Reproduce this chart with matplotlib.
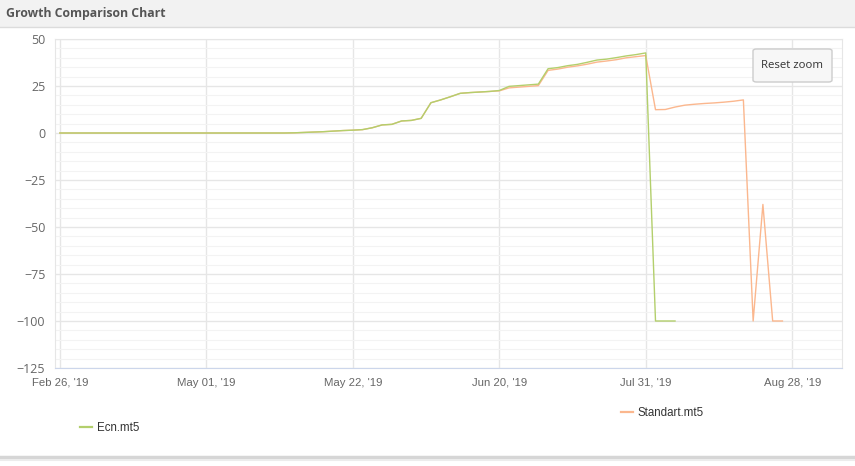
import numpy as np
import matplotlib.pyplot as plt
from matplotlib.patches import Rectangle, FancyBboxPatch
from matplotlib.lines import Line2D

# ordinal axis: one step per data point
tick_pos = [0, 15, 30, 45, 60, 75]
tick_labels = ["Feb 26, '19", "May 01, '19", "May 22, '19",
               "Jun 20, '19", "Jul 31, '19", "Aug 28, '19"]

ecn = [0]*24 + [0.1, 0.3, 0.5, 0.7, 1.0, 1.3, 1.5, 1.8, 2.8, 4.3, 4.6, 6.4,
                6.7, 7.8, 16.1, 17.6, 19.3, 21.1, 21.5, 21.8, 22.1, 22.6,
                24.8, 25.2, 25.6, 26.0, 34.2, 34.8, 35.8, 36.5, 37.6, 38.8,
                39.3, 40.1, 41.0, 41.7, 42.6, -100, -100, -100]
standart = [0]*24 + [0.1, 0.3, 0.5, 0.7, 1.0, 1.3, 1.5, 1.8, 2.8, 4.3, 4.6,
                     6.4, 6.7, 7.8, 16.1, 17.6, 19.3, 21.1, 21.5, 21.8, 22.1,
                     22.4, 24.0, 24.4, 24.8, 25.2, 33.3, 34.0, 35.0, 35.7,
                     36.6, 37.7, 38.3, 39.0, 40.0, 40.6, 41.2, 12.4, 12.5,
                     13.8, 14.8, 15.3, 15.7, 16.0, 16.4, 16.9, 17.6, -100,
                     -38, -100, -100]

green = '#b3cf6c'
orange = '#fbb78e'
grid_major = '#e6e6e6'
grid_minor = '#f3f3f3'
narrow = ['Liberation Sans', 'DejaVu Sans']

fig = plt.figure(figsize=(8.55, 4.66), dpi=100)
fig.patch.set_facecolor('white')

# header bar + bottom shadow
fig.patches.append(Rectangle((0, 1 - 27/466), 1, 27/466, transform=fig.transFigure,
                             facecolor='#f2f2f2', edgecolor='none', zorder=0))
fig.add_artist(Line2D([0, 1], [1 - 27/466]*2, color='#dcdcdc', lw=1))
fig.add_artist(Line2D([0, 1], [1 - 457/466]*2, color='#d6d6d6', lw=2.5))
fig.add_artist(Line2D([0, 1], [1 - 460/466]*2, color='#ececec', lw=1.5))
fig.text(6/855, 1 - 13.5/466, 'Growth Comparison Chart', fontsize=8.8,
         fontweight='bold', color='#555555', va='center', ha='left',
         family='Open Sans')

ax = fig.add_axes([55/855, 1 - 368/466, (842 - 55)/855, (368 - 39)/466])
x_e = np.arange(len(ecn))
x_s = np.arange(len(standart))
ax.plot(x_s, standart, color=orange, lw=1.0, zorder=3)
ax.plot(x_e, ecn, color=green, lw=1.0, zorder=4)

ax.set_xlim(-0.5, 80.1)
ax.set_ylim(-125, 50)
ax.set_yticks(np.arange(-125, 51, 25))
ax.set_yticks(np.arange(-125, 51, 5), minor=True)
ax.set_xticks(tick_pos)
ax.set_xticklabels(tick_labels, family=narrow)
ax.tick_params(axis='x', length=0, pad=7, labelsize=8.2, colors='#666666')
ax.tick_params(axis='y', which='both', length=0, pad=7, labelsize=9,
               colors='#666666')
for t in ax.get_yticklabels():
    t.set_family('Open Sans')
ax.grid(True, which='major', color=grid_major, lw=1)
ax.grid(True, which='minor', axis='y', color=grid_minor, lw=0.8)
ax.set_axisbelow(True)
for s in ['top', 'left', 'right']:
    ax.spines[s].set_color('#e6e6e6')
ax.spines['bottom'].set_color('#ccd6eb')

# Reset zoom button
btn = FancyBboxPatch((753/855, 1 - 82/466), 79/855, 33/466,
                     boxstyle='round,pad=0,rounding_size=0.004',
                     transform=fig.transFigure, facecolor='#f7f7f7',
                     edgecolor='#cccccc', lw=1, zorder=10)
fig.patches.append(btn)
fig.text(792/855, 1 - 65/466, 'Reset zoom', fontsize=8.2, color='#333333',
         ha='center', va='center', family='Open Sans', zorder=11)

# legend items
leg1 = fig.legend([Line2D([], [], color=green, lw=1.6)], ['Ecn.mt5'],
                  loc='center left', bbox_to_anchor=(70/855, 1 - 428/466),
                  frameon=False, handlelength=1.0, handletextpad=0.4,
                  prop={'family': narrow, 'size': 8.3})
for t in leg1.get_texts():
    t.set_color('#333333')
leg2 = fig.legend([Line2D([], [], color=orange, lw=1.6)], ['Standart.mt5'],
                  loc='center left', bbox_to_anchor=(611/855, 1 - 413/466),
                  frameon=False, handlelength=1.0, handletextpad=0.4,
                  prop={'family': narrow, 'size': 8.3})
for t in leg2.get_texts():
    t.set_color('#333333')

fig.savefig('out.png', dpi=100)
